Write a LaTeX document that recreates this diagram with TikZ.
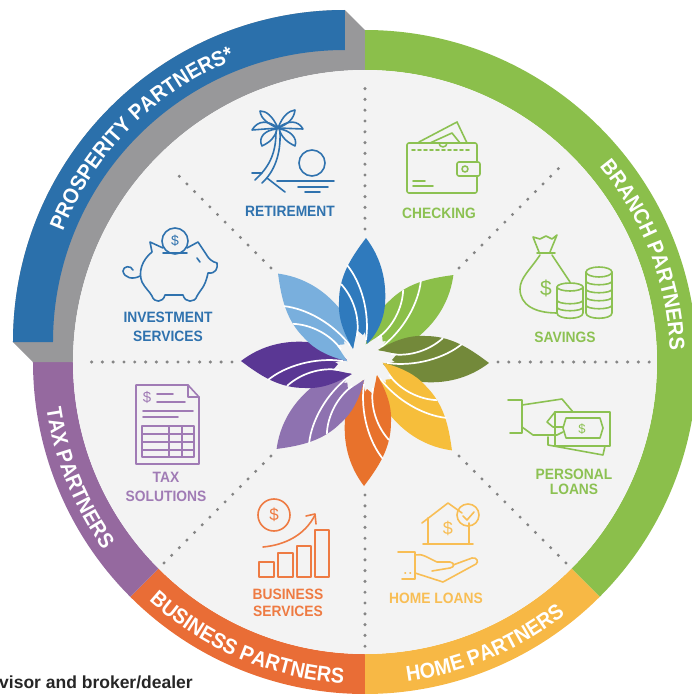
\documentclass[tikz,border=0pt]{standalone}
\usepackage{fontspec}
\setmainfont{Liberation Sans}
\newfontfamily\partnerfont[FakeStretch=0.92]{Liberation Sans}
\usetikzlibrary{decorations.text}

\definecolor{bandgreen}{HTML}{8BBF4B}
\definecolor{bandyellow}{HTML}{F7B845}
\definecolor{bandorange}{HTML}{E96D36}
\definecolor{bandpurple}{HTML}{95699F}
\definecolor{bandblue}{HTML}{2B70AB}
\definecolor{bandgray}{HTML}{98989A}
\definecolor{discgray}{HTML}{F3F3F3}
\definecolor{petalblue}{HTML}{2F7ABD}
\definecolor{petalsky}{HTML}{79AFDD}
\definecolor{petalgreen}{HTML}{8BBF49}
\definecolor{petalolive}{HTML}{73893A}
\definecolor{petalyellow}{HTML}{F6BE3B}
\definecolor{petalorange}{HTML}{E8722C}
\definecolor{petallilac}{HTML}{8E72B0}
\definecolor{petalviolet}{HTML}{5A3794}
\definecolor{iconblue}{HTML}{2F72AE}
\definecolor{icongreen}{HTML}{8CC152}
\definecolor{iconyellow}{HTML}{F8BE55}
\definecolor{iconorange}{HTML}{EE7B43}
\definecolor{iconpurple}{HTML}{A07BB5}

\tikzstyle{spoke}=[draw=black!48,line width=3.4pt,line cap=round,dash pattern=on 0pt off 10.8pt]
\tikzstyle{streak}=[draw=white,line width=1.7pt]
\tikzstyle{icon}=[line width=1.6pt,line cap=round,line join=round]
\tikzstyle{label}=[font=\partnerfont\bfseries\fontsize{15}{17}\selectfont,align=center,inner sep=0pt]
\tikzstyle{dollar}=[font=\fontsize{16}{16}\selectfont,inner sep=0pt]

\newcommand{\bandtext}[1]{|\partnerfont\bfseries\fontsize{21.5}{22}\selectfont\color{white}|#1}

\begin{document}
\begin{tikzpicture}[x=1pt,y=1pt]

   \useasboundingbox (-365,-332) rectangle (327,362);

   % bands
   \fill[bandgreen] (90:332) arc[start angle=90,end angle=-45,radius=332] -- (-45:292)
arc[start angle=-45,end angle=90,radius=292] -- cycle;
   \fill[bandyellow] (-45:332) arc[start angle=-45,end angle=-90,radius=332] -- (-90:292)
arc[start angle=-90,end angle=-45,radius=292] -- cycle;
   \fill[bandorange] (-90:332) arc[start angle=-90,end angle=-135,radius=332] -- (-135:292)
arc[start angle=-135,end angle=-90,radius=292] -- cycle;
   \fill[bandpurple] (-135:332) arc[start angle=-135,end angle=-180,radius=332] -- (180:292)
arc[start angle=180,end angle=225,radius=292] -- cycle;

   \fill[bandgray] (-20,352) -- (0,332) -- (0,292) arc[start angle=90,end angle=180,radius=292]
-- (-332,0) -- (-352,20) arc[start angle=180,end angle=90,radius=332] -- cycle;
   \fill[bandblue] (-20,352) arc[start angle=90,end angle=180,radius=332] -- (-312,20)
arc[start angle=180,end angle=90,radius=292] -- cycle;

   \fill[discgray] (0,0) circle (292);

   % band names
   \path[decorate,decoration={text along path,text align=center,
     text={\bandtext{PROSPERITY PARTNERS*}}}] ([shift={(-20,20)}]170:303) arc[start angle=170,end angle=100,radius=303];
   \path[decorate,decoration={text along path,text align=center,
     text={\bandtext{BRANCH PARTNERS}}}] (55:305) arc[start angle=55,end angle=-13,radius=305];
   \path[decorate,decoration={text along path,text align=center,
     text={\bandtext{TAX PARTNERS}}}] (178:322) arc[start angle=178,end angle=226,radius=322];
   \path[decorate,decoration={text along path,text align=center,
     text={\bandtext{BUSINESS PARTNERS}}}] (215:322) arc[start angle=215,end angle=279,radius=322];
   \path[decorate,decoration={text along path,text align=center,
     text={\bandtext{HOME PARTNERS}}}] (265:322) arc[start angle=265,end angle=321,radius=322];

   % dotted spokes
   \foreach \ang/\rad in {90/284,45/284,0/285,-45/285,-90/285,-135/285,180/274,135/272}
      \draw[spoke] (\ang:133) -- (\ang:\rad);

   % flower
   \foreach \rot/\col in {-45/petalgreen,-90/petalolive,-135/petalyellow,-180/petalorange,-225/petallilac,-270/petalviolet,-315/petalsky,0/petalblue}
   {
      \begin{scope}[rotate=\rot]
      \fill[\col] (1,124) .. controls (14,107) and (22,85) .. (20,58)
.. controls (19,42) and (12,28) .. (2,18) -- (0,30) -- (-2,27) -- (-8,32) -- (-12,13)
.. controls (-22,30) and (-27,45) .. (-26,60) .. controls (-26,85) and (-15,103) .. (1,124);
      \draw[streak] (-18,97) .. controls (-4,80) and (5,50) .. (1,22);
      \draw[streak] (-24,78) .. controls (-12,65) and (-5,45) .. (-8,26);
      \end{scope}
   }

   % everything below is placed in pixels of the sheet
   \begin{scope}[shift={(-365,362)},y=-1pt]

   % retirement
   \begin{scope}[icon,draw=iconblue,text=iconblue]
   \draw (278,128) .. controls (272,115) and (266,111) .. (260,111) .. controls (261,119) and (268,124) .. (278,128);
   \draw (278,128) .. controls (283,115) and (289,111) .. (295,110) .. controls (294,119) and (288,124) .. (278,128);
   \draw (278,128) .. controls (268,120) and (258,120) .. (252,130) -- (278,128);
   \draw (278,128) .. controls (288,120) and (298,120) .. (303,129) -- (278,128);
   \draw (277,129) .. controls (264,130) and (258,138) .. (262,146) .. controls (270,142) and (275,138) .. (277,129);
   \draw (279,129) .. controls (290,130) and (298,138) .. (295,146) .. controls (287,142) and (282,138) .. (279,129);
   \draw (276,132) .. controls (276,155) and (268,168) .. (255,180);
   \draw (280,132) .. controls (281,155) and (274,172) .. (262,183);
   \draw (252,173) -- (262,173);
   \draw (277,181) -- (334,181);
   \draw (267,178) -- (285,192);
   \draw (298,187) -- (328,187);
   \draw (305,192) -- (320,192);
   \draw (312,163) circle (13);
   \node[label] (retirement) at (290,211) {RETIREMENT};
   \end{scope}

   % investment services
   \begin{scope}[icon,draw=iconblue,text=iconblue]
   \draw (175,241) circle (13);
   \node[dollar,font=\fontsize{14}{14}\selectfont] (piggycoin) at (175,241) {\$};
   \draw (163,253) -- (187,253);
   \draw (163,248) -- (150,242) -- (152,252) .. controls (142,260) and (138,272) .. (142,282)
.. controls (145,288) and (150,292) .. (152,296) .. controls (154,303) and (163,303) .. (165,295)
-- (183,295) .. controls (185,303) and (195,303) .. (197,296) .. controls (200,290) and (205,288) .. (208,273)
.. controls (216,274) and (218,268) .. (217,263) .. controls (212,262) and (208,258) .. (206,254)
-- (198,242) -- (187,248);
   \draw (140,276) .. controls (133,280) and (124,278) .. (123,271) .. controls (123,266) and (131,265) .. (133,270);
   \draw (197,258) -- (200,262);
   \node[label] (investment) at (168,327) {INVESTMENT\\[2pt]SERVICES};
   \end{scope}

   % checking
   \begin{scope}[icon,draw=icongreen,text=icongreen]
   \draw (419,142) -- (457,122) -- (467,143);
   \draw (430,143) -- (452,133) -- (460,143);
   \draw (439,143) arc[start angle=180,end angle=0,radius=4];
   \draw[rounded corners=2pt] (407,143) rectangle (477,193);
   \draw[dashed] (412,150) -- (470,150);
   \filldraw[fill=discgray,rounded corners=2pt] (457,162) rectangle (480,176);
   \draw (465,169) circle (3);
   \draw (413,181) -- (425,181);
   \draw (413,186) -- (433,186);
   \node[label] (checking) at (439,213) {CHECKING};
   \end{scope}

   % savings
   \begin{scope}[icon,draw=icongreen,text=icongreen]
   \draw (539,252) -- (533,237) -- (540,239) -- (546,236) -- (552,239) -- (557,235) -- (550,252);
   \draw (537,253) -- (555,253);
   \draw (540,255) .. controls (530,270) and (520,278) .. (520,289) .. controls (520,305) and (535,313) .. (557,313);
   \draw (552,255) -- (570,282);
   \node[dollar,font=\fontsize{21}{21}\selectfont] (bagdollar) at (546,288) {\$};
   \filldraw[fill=discgray] (557,287) -- (557,313) .. controls (557,320) and (583,320) .. (583,313) -- (583,287);
   \filldraw[fill=discgray] (570,287) ellipse (13 and 4);
   \foreach \yy in {300,307}
      \draw (557,\yy) .. controls (557,\yy+5) and (583,\yy+5) .. (583,\yy);
   \filldraw[fill=discgray] (586,272) -- (586,313) .. controls (586,320) and (612,320) .. (612,313) -- (612,272);
   \filldraw[fill=discgray] (599,272) ellipse (13 and 5);
   \foreach \yy in {281,289,297,305}
      \draw (586,\yy) .. controls (586,\yy+5) and (612,\yy+5) .. (612,\yy);
   \node[label] (savings) at (565,337) {SAVINGS};
   \end{scope}

   % personal loans
   \begin{scope}[icon,draw=icongreen,text=icongreen]
   \draw (508,400) -- (522,400) -- (522,433) -- (510,433);
   \draw (522,405) -- (562,399) -- (573,412);
   \draw (522,427) -- (533,435) -- (557,435) -- (563,432);
   \draw (555,412) -- (547,422) -- (553,427) -- (563,427);
   \draw (555,412) rectangle (610,446);
   \draw (548,437) -- (548,445) -- (603,455) -- (605,446);
   \filldraw[fill=discgray] (566,418) -- (600,418) -- (603,428) -- (600,438) -- (566,438) -- (563,428) -- cycle;
   \node[dollar,font=\fontsize{13}{13}\selectfont] (loandollar) at (582,429) {\$};
   \node[label] (personal) at (574,482) {PERSONAL\\[-2pt]LOANS};
   \end{scope}

   % home loans
   \begin{scope}[icon,draw=iconyellow,text=iconyellow]
   \draw (422,523) -- (448,503) -- (462,513);
   \draw (428,518) -- (428,544);
   \draw (469,523) -- (469,544);
   \draw (423,544) -- (473,544);
   \node[dollar,font=\fontsize{18}{18}\selectfont] (homedollar) at (448,528) {\$};
   \draw (468,515) circle (11);
   \draw (463,516) -- (467,520) -- (474,512);
   \draw (398,552) -- (415,552) -- (415,579) -- (402,579);
   \draw (415,555) .. controls (422,553) and (428,558) .. (437,562) -- (450,562) .. controls (455,563) and (455,567) .. (450,568) -- (432,571);
   \draw (453,565) -- (472,558) .. controls (477,557) and (479,562) .. (476,564) -- (443,582) -- (415,573);
   \draw (405,573) -- (405.5,573);
   \draw (410,573) -- (410.5,573);
   \node[label] (homeloans) at (436,598) {HOME LOANS};
   \end{scope}

   % business services
   \begin{scope}[icon,draw=iconorange,text=iconorange]
   \draw (274,515) circle (16);
   \node[dollar,font=\fontsize{17}{17}\selectfont] (growdollar) at (274,515) {\$};
   \draw (263,547) .. controls (285,545) and (305,535) .. (315,515);
   \draw (306,516) -- (315,514) -- (316,524);
   \draw (259,562) rectangle (274,577);
   \draw (278,553) rectangle (293,577);
   \draw (297,546) rectangle (311,577);
   \draw (315,530) rectangle (329,577);
   \node[label] (business) at (288,603) {BUSINESS\\[0pt]SERVICES};
   \end{scope}

   % tax solutions
   \begin{scope}[icon,draw=iconpurple,text=iconpurple]
   \draw (136,385) -- (188,385) -- (199,397) -- (199,464) -- (136,464) -- cycle;
   \draw (188,385) -- (188,397) -- (199,397);
   \node[dollar,font=\fontsize{15}{15}\selectfont] (taxdollar) at (147,397) {\$};
   \draw (157,394) -- (173,394);
   \draw (157,402) -- (185,402);
   \draw (143,411) -- (193,411);
   \draw (143,417) -- (178,417);
   \draw (142,426) rectangle (194,457);
   \foreach \yy in {434,442,450}
      \draw (142,\yy) -- (194,\yy);
   \foreach \xx in {169,182}
      \draw (\xx,426) -- (\xx,457);
   \node[label] (taxsolutions) at (166,487) {TAX\\[2pt]SOLUTIONS};
   \end{scope}

   \node[anchor=base west,inner sep=0pt,font=\fontsize{17.5}{18}\selectfont\bfseries,text=black!85] (footnote) at (-1,688) {visor and broker/dealer};

   \end{scope}

\end{tikzpicture}
\end{document}
